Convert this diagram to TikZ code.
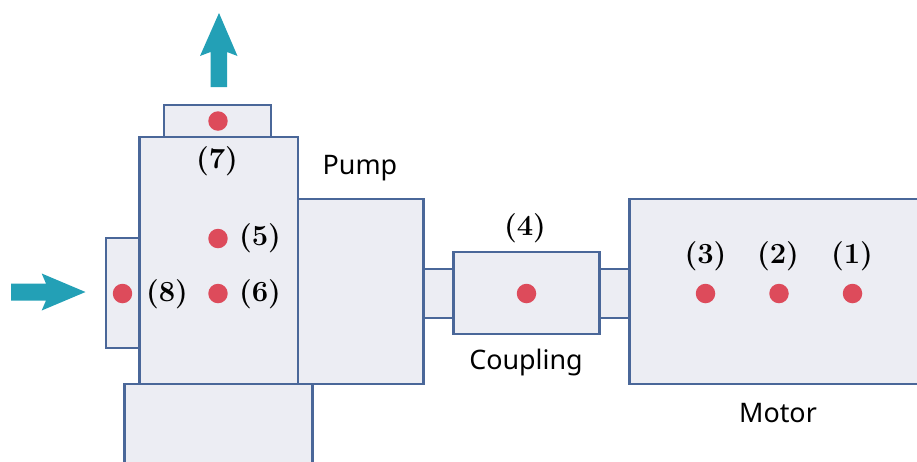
\documentclass[tikz,border=0pt]{standalone}
\usepackage{fontspec}
\setsansfont{Noto Sans}
\definecolor{partfill}{HTML}{ECEDF3}
\definecolor{partline}{HTML}{4A6799}
\definecolor{pointred}{HTML}{DD4B5B}
\definecolor{flowteal}{HTML}{23A0B6}
\tikzset{
  part/.style={fill=partfill, draw=partline, line width=0.44mm},
  point/.style={circle, fill=pointred, inner sep=0pt, minimum size=0.39cm},
  flow/.style={fill=flowteal, draw=none},
  number/.style={font=\bfseries\fontsize{16.6}{18}\selectfont},
  title/.style={font=\sffamily\fontsize{15.3}{18}\selectfont}
}
\begin{document}
\begin{tikzpicture}[x=0.02cm, y=-0.02cm]
  \useasboundingbox (0,0) rectangle (917,461);
  \clip (0,0) rectangle (917,461);

  % casing parts
  \draw[part] (164,105) rectangle (271,137);
  \draw[part] (106,238) rectangle (139.5,348);
  \draw[part] (298,199) rectangle (423.5,384);
  \draw[part] (423.5,269) rectangle (453.5,318);
  \draw[part] (599.5,269) rectangle (629.5,318);
  \draw[part] (139.5,137) rectangle (298,384);
  \draw[part] (124.5,384) rectangle (312.5,480);
  \draw[part] (453.5,252) rectangle (599.5,334);
  \draw[part] (629.5,199) rectangle (940,384);

  % flow arrows
  \draw[flow] (210.5,87) -- (210.5,52) -- (200,56) -- (219,13) -- (237.5,56)
  -- (227,52) -- (227,87) -- cycle;
  \draw[flow] (11,283.5) -- (46,283.5) -- (41.7,273.5) -- (85.5,292) -- (41.7,310.5)
  -- (46,300.5) -- (11,300.5) -- cycle;

  % measuring points
  \foreach \name/\x/\y in {a/852.5/293.5, b/779/293.5, c/705.5/293.5, d/526.5/293.5,
    e/218/238.5, f/218/293.5, g/218/121, h/122.5/293.5} {
      \node[point] (\name) at (\x,\y) {};
  }

  % point numbers
  \foreach \lab/\x/\y/\txt in {la/852/256.5/1, lb/778/256.5/2, lc/705.5/256.5/3,
    ld/525/228.5/4, le/260/238.5/5, lf/260/294/6, lg/217/161.5/7, lh/167/294/8} {
      \node[number] (\lab) at (\x,\y) {(\txt)};
  }

  % part names
  \node[title] (pump) at (360,168) {Pump};
  \node[title] (coupling) at (526,363) {Coupling};
  \node[title] (motor) at (778,413) {Motor};
\end{tikzpicture}
\end{document}
